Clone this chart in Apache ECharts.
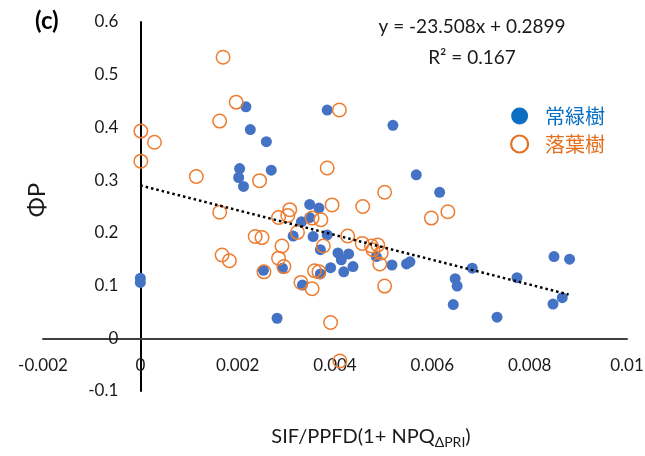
<!DOCTYPE html>
<html>
<head>
<meta charset="utf-8">
<script src="https://cdn.jsdelivr.net/npm/echarts@6/dist/echarts.min.js"></script>
<style>html,body{margin:0;padding:0;background:#fff}#c{width:645px;height:456px}</style>
</head>
<body>
<div id="c"></div>
<script>
// 常緑樹 (evergreen) points
const evergreenX = [0, 0, 0.00217, 0.00226, 0.00259, 0.00204, 0.00202, 0.00212, 0.00269, 0.00384, 0.00519, 0.00567, 0.00615, 0.00850, 0.00882, 0.00682, 0.00774, 0.00647, 0.00651, 0.00643, 0.00733, 0.00867, 0.00848, 0.00517, 0.00547, 0.00554, 0.00348, 0.00367, 0.00348, 0.00331, 0.00314, 0.00355, 0.00384, 0.00370, 0.00406, 0.00428, 0.00413, 0.00391, 0.00418, 0.00437, 0.00253, 0.00292, 0.00370, 0.00333, 0.00485, 0.00281];
const evergreenY = [0.114, 0.106, 0.439, 0.396, 0.373, 0.322, 0.305, 0.288, 0.319, 0.433, 0.404, 0.310, 0.277, 0.155, 0.150, 0.133, 0.115, 0.113, 0.099, 0.064, 0.040, 0.077, 0.065, 0.139, 0.141, 0.145, 0.254, 0.247, 0.229, 0.221, 0.194, 0.193, 0.196, 0.168, 0.162, 0.160, 0.149, 0.134, 0.126, 0.136, 0.129, 0.133, 0.122, 0.101, 0.155, 0.038];
// 落葉樹 (deciduous) points
const deciduousX = [0.00170, 0.00197, 0.00163, 0.00001, 0.00029, 0.00001, 0.00115, 0.00245, 0.00384, 0.00409, 0.00502, 0.00394, 0.00457, 0.00598, 0.00632, 0.00353, 0.00371, 0.00426, 0.00456, 0.00475, 0.00488, 0.00478, 0.00495, 0.00492, 0.00502, 0.00376, 0.00358, 0.00367, 0.00353, 0.00391, 0.00410, 0.00330, 0.00307, 0.00303, 0.00284, 0.00323, 0.00236, 0.00250, 0.00291, 0.00284, 0.00295, 0.00254, 0.00163, 0.00168, 0.00183];
const deciduousY = [0.533, 0.448, 0.412, 0.393, 0.372, 0.336, 0.307, 0.299, 0.323, 0.433, 0.277, 0.253, 0.250, 0.228, 0.240, 0.228, 0.225, 0.194, 0.180, 0.175, 0.177, 0.168, 0.162, 0.141, 0.099, 0.175, 0.128, 0.126, 0.094, 0.030, -0.043, 0.106, 0.244, 0.233, 0.229, 0.201, 0.193, 0.191, 0.175, 0.152, 0.136, 0.126, 0.239, 0.158, 0.147];
// linear trend (all points)
const trendSlope = -23.508;
const trendIntercept = 0.2899;
const trendXRange = [0, 0.0088];
const seriesNames = ['常緑樹', '落葉樹'];
const equationText = 'y = -23.508x + 0.2899';
const r2Text = 'R² = 0.167';
// axis ranges
const xMin = -0.002, xMax = 0.01, xStep = 0.002;
const yMin = -0.1, yMax = 0.6, yStep = 0.1;

const zip = (xs, ys) => xs.map((x, i) => [x, ys[i]]);
const trendData = trendXRange.map(x => [x, trendSlope * x + trendIntercept]);

// layout
const W = 645, H = 456;
const gLeft = 43, gRight = 18, gTop = 22, gBottom = 65;
const gW = W - gLeft - gRight, gH = H - gTop - gBottom;
// move axes (line + labels) to cross at zero, like the original
const xAxisOffset = -((0 - yMin) / (yMax - yMin)) * gH;
const yAxisOffset = -((0 - xMin) / (xMax - xMin)) * gW;

const font = 'Lato, "Noto Sans", sans-serif';
const chart = echarts.init(document.getElementById('c'), null, {renderer: 'canvas'});
chart.setOption({
  animation: false,
  backgroundColor: '#fff',
  grid: {left: gLeft, right: gRight, top: gTop, bottom: gBottom, containLabel: false, outerBoundsMode: 'none'},
  xAxis: {
    type: 'value', min: xMin, max: xMax, interval: xStep, position: 'bottom', offset: xAxisOffset,
    axisLine: {onZero: false, lineStyle: {color: '#404040', width: 2}},
    axisTick: {show: false}, splitLine: {show: false},
    axisLabel: {color: '#1a1a1a', fontSize: 17, fontFamily: font, margin: 19}
  },
  yAxis: {
    type: 'value', min: yMin, max: yMax, interval: yStep, position: 'left', offset: yAxisOffset,
    axisLine: {onZero: false, lineStyle: {color: '#000', width: 2}},
    axisTick: {show: false}, splitLine: {show: false},
    axisLabel: {color: '#1a1a1a', fontSize: 17, fontFamily: font, margin: 22}
  },
  legend: {
    orient: 'vertical', left: 505, top: 101, itemWidth: 17, itemHeight: 17, itemGap: 8,
    textStyle: {fontSize: 20, fontFamily: '"Noto Sans CJK JP", sans-serif', padding: [0, 0, 0, 12]},
    data: [
      {name: seriesNames[0], icon: 'circle', itemStyle: {color: '#0A6FC2', borderWidth: 0}, textStyle: {color: '#0A6FC2'}},
      {name: seriesNames[1], icon: 'circle', itemStyle: {color: '#fff', borderColor: '#E4701E', borderWidth: 2.2}, textStyle: {color: '#E4701E'}}
    ]
  },
  series: [
    {name: seriesNames[0], type: 'scatter', symbol: 'circle', symbolSize: 11,
     itemStyle: {color: '#4472C4', opacity: 1}, data: zip(evergreenX, evergreenY), z: 3},
    {name: seriesNames[1], type: 'scatter', symbol: 'circle', symbolSize: 13.5,
     itemStyle: {color: 'rgba(255,255,255,0)', borderColor: '#ED7D31', borderWidth: 1.5, opacity: 1},
     data: zip(deciduousX, deciduousY), z: 4},
    {name: 'trend', type: 'line', data: trendData, symbol: 'none', silent: true,
     lineStyle: {color: '#000', width: 2.5, type: [2.5, 3]}, z: 5}
  ],
  graphic: [
    {type: 'text', left: 35, top: 9, style: {text: '(c)', font: 'bold 24px ' + font, fill: '#000'}},
    {type: 'text', x: 472, y: 27, style: {text: equationText, font: '19px ' + font, fill: '#1a1a1a', align: 'center', verticalAlign: 'middle'}},
    {type: 'text', x: 472, y: 58, style: {text: r2Text, font: '19px ' + font, fill: '#1a1a1a', align: 'center', verticalAlign: 'middle'}},
    {type: 'text', x: 37, y: 200, rotation: Math.PI / 2, style: {text: 'ΦP', font: '24px ' + font, fill: '#1a1a1a', align: 'center', verticalAlign: 'middle'}},
    {type: 'text', x: 371, y: 437, style: {
      text: 'SIF/PPFD(1+ NPQ{sub|ΔPRI})', font: '20px ' + font, fill: '#1a1a1a', align: 'center', verticalAlign: 'middle',
      rich: {sub: {fontSize: 14, fontFamily: font, fill: '#1a1a1a', padding: [10, 0, 0, 0]}}}}
  ]
});
</script>
</body>
</html>
